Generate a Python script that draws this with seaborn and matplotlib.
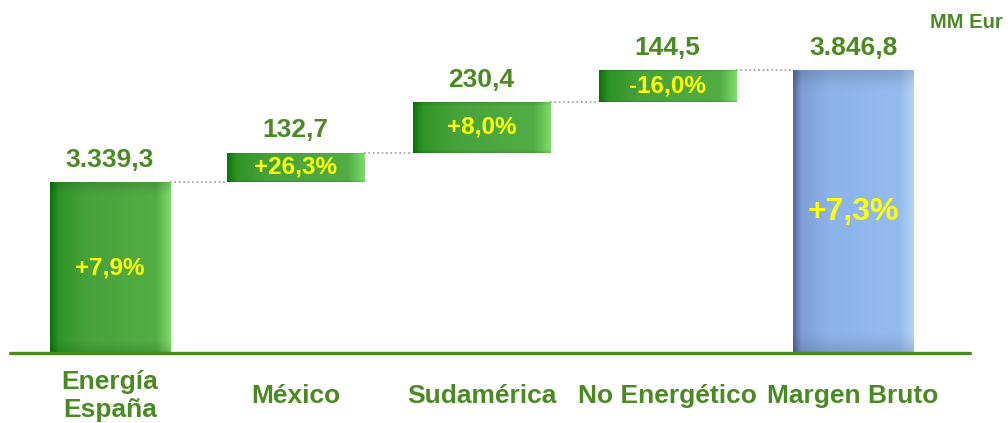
import numpy as np
import matplotlib
matplotlib.use("Agg")
import matplotlib.pyplot as plt
import seaborn as sns

# Data (MM Eur)
categories = ["Energía\nEspaña", "México", "Sudamérica", "No Energético", "Margen Bruto"]
values = [3339.3, 132.7, 230.4, 144.5, 3846.8]
value_labels = ["3.339,3", "132,7", "230,4", "144,5", "3.846,8"]
pct_labels = ["+7,9%", "+26,3%", "+8,0%", "-16,0%", "+7,3%"]
is_total = [True, False, False, False, True]

# waterfall bottoms / heights
bottoms, heights = [], []
running = 0.0
for v, tot in zip(values, is_total):
    if tot:
        bottoms.append(0.0)
        heights.append(v)
        running = v
    else:
        bottoms.append(running)
        heights.append(v)
        running += v

GREEN_TXT = "#4a8a22"
YELLOW = "#ffff00"
Y0, Y1 = 2564.5, 4164.0

sns.set_style("white")
plt.rcParams["font.family"] = ["Liberation Sans", "DejaVu Sans"]

fig = plt.figure(figsize=(10.08, 4.23), dpi=100)
ax = fig.add_axes([0, 70 / 423, 1, 353 / 423])

sns.barplot(x=categories, y=heights, bottom=bottoms, width=0.74, ax=ax,
            color="#4aa640", edgecolor="none")

green_stops = ["#0b730b", "#2f9426", "#47a23c", "#52ad44", "#7ddc6a"]
blue_stops = ["#56659a", "#7f9fd6", "#8cb3ea", "#95bbee", "#b4d4f7"]


def gradient(stops, n=200):
    cols = np.array([matplotlib.colors.to_rgb(c) for c in stops])
    pos = np.array([0.0, 0.07, 0.3, 0.88, 1.0])
    xs = np.linspace(0, 1, n)
    rgb = np.stack([np.interp(xs, pos, cols[:, k]) for k in range(3)], axis=-1)
    img = np.repeat(rgb[None, :, :], 60, axis=0)
    # slight bevel darkening at top and bottom
    ys = np.linspace(0, 1, 60)
    shade = 1 - 0.12 * (np.clip(1 - ys / 0.06, 0, 1) + np.clip((ys - 0.94) / 0.06, 0, 1))
    return img * shade[:, None, None]


for i, p in enumerate(ax.patches):
    if is_total[i]:
        p.set_x(i - 0.325)
        p.set_width(0.65)
    p.set_facecolor("none")
    x0, w = p.get_x(), p.get_width()
    b, h = p.get_y(), p.get_height()
    img = gradient(blue_stops if i == 4 else green_stops)
    im = ax.imshow(img, extent=[x0, x0 + w, max(b, Y0), b + h], aspect="auto",
                   zorder=2, interpolation="bilinear")
    im.set_clip_path(p)

    top = b + h
    ax.annotate(value_labels[i], (i, top), xytext=(0, 16), textcoords="offset points",
                ha="center", va="center", fontsize=19, fontweight="bold", color=GREEN_TXT)
    mid = (max(b, Y0) + top) / 2
    ax.text(i, mid, pct_labels[i], ha="center", va="center", fontweight="bold",
            fontsize=23 if i == 4 else 17.5, color=YELLOW, zorder=3)
    ax.text(i, -43 / 353, categories[i], transform=ax.get_xaxis_transform(),
            ha="center", va="center", fontsize=19, fontweight="bold",
            color=GREEN_TXT, linespacing=1.2)

# dotted connectors
patches = ax.patches
for i in range(len(patches) - 1):
    p, q = patches[i], patches[i + 1]
    level = p.get_y() + p.get_height()
    ax.plot([p.get_x() + p.get_width(), q.get_x()], [level, level],
            ls=":", color="#9a9a9a", lw=1.2, zorder=1)

ax.set_xlim(-0.592, 4.834)
ax.set_ylim(Y0, Y1)
ax.axhline(Y0, xmin=10 / 1008, xmax=970 / 1008, color="#4b8a1e", lw=2.4, clip_on=False, zorder=4)
ax.set_axis_off()

fig.text(1003 / 1008, 1 - 22 / 423, "MM Eur", ha="right", va="center",
         fontsize=14.5, fontweight="bold", color=GREEN_TXT)

fig.savefig("out.png", dpi=100)
